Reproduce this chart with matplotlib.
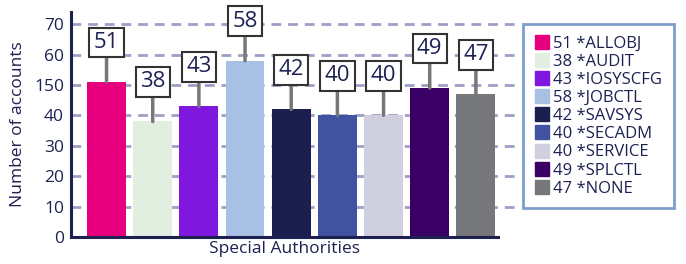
import matplotlib.pyplot as plt
from matplotlib.lines import Line2D

plt.rcParams['font.family'] = ['Open Sans', 'DejaVu Sans']

authorities = ["*ALLOBJ", "*AUDIT", "*IOSYSCFG", "*JOBCTL", "*SAVSYS",
               "*SECADM", "*SERVICE", "*SPLCTL", "*NONE"]
accounts = [51, 38, 43, 58, 42, 40, 40, 49, 47]
colors = ["#e6007e", "#e2eedf", "#7f17de", "#a8c0e4", "#1b1f4e",
          "#4152a0", "#cfcfe0", "#3a0066", "#76777b"]
ytick_vals = [0, 10, 20, 30, 40, 50, 60, 70]
ytick_labels = ["0", "10", "20", "30", "40", "150", "60", "70"]

navy = "#1c2152"
grid_col = "#9c9fc4"

fig = plt.figure(figsize=(6.86, 2.64), dpi=100)
ax = fig.add_axes([0.1035, 0.1023, 0.6225, 0.852])

x = list(range(len(accounts)))
ax.bar(x, accounts, width=0.84, color=colors, zorder=3)

for y in ytick_vals[1:]:
    ax.axhline(y, xmin=0, xmax=1.05, color=grid_col, lw=2, ls=(0, (3.5, 2.5)),
               clip_on=False, zorder=1)

for i, v in enumerate(accounts):
    ax.annotate(str(v), xy=(i, v), xytext=(i, v + 13), ha="center", va="center",
                fontsize=16, color=navy, zorder=5, annotation_clip=False,
                bbox=dict(boxstyle="square,pad=0.2", fc="white", ec="#333333", lw=1.5),
                arrowprops=dict(arrowstyle="-", color="#777777", lw=2.5,
                                shrinkA=0, shrinkB=0))

ax.set_xlim(-0.77, 8.48)
ax.set_ylim(0, 74)
ax.set_yticks(ytick_vals)
ax.set_yticklabels(ytick_labels)
ax.set_xticks([])
ax.tick_params(axis="y", length=0, labelsize=12.5, labelcolor=navy, pad=5)
for s in ["top", "right"]:
    ax.spines[s].set_visible(False)
for s in ["left", "bottom"]:
    ax.spines[s].set_color(navy)
    ax.spines[s].set_linewidth(2.2)
    ax.spines[s].set_zorder(4)

ax.set_ylabel("Number of accounts", fontsize=12.5, color=navy, labelpad=6)
ax.set_xlabel("Special Authorities", fontsize=12.5, color=navy, labelpad=3)

handles = [Line2D([], [], marker="s", ls="none", markersize=10, color=c)
           for c in colors]
labels = [f"{v} {a}" for v, a in zip(accounts, authorities)]
leg = fig.legend(handles, labels, loc="upper left", bbox_to_anchor=(0.763, 0.91),
                 frameon=True, fancybox=False, fontsize=12, labelcolor=navy,
                 handlelength=0.8, handletextpad=0.3, labelspacing=0.13,
                 borderpad=0.7, borderaxespad=0)
leg.get_frame().set_edgecolor("#5b86c0")
leg.get_frame().set_linewidth(2)

fig.savefig("out.png", dpi=100)
